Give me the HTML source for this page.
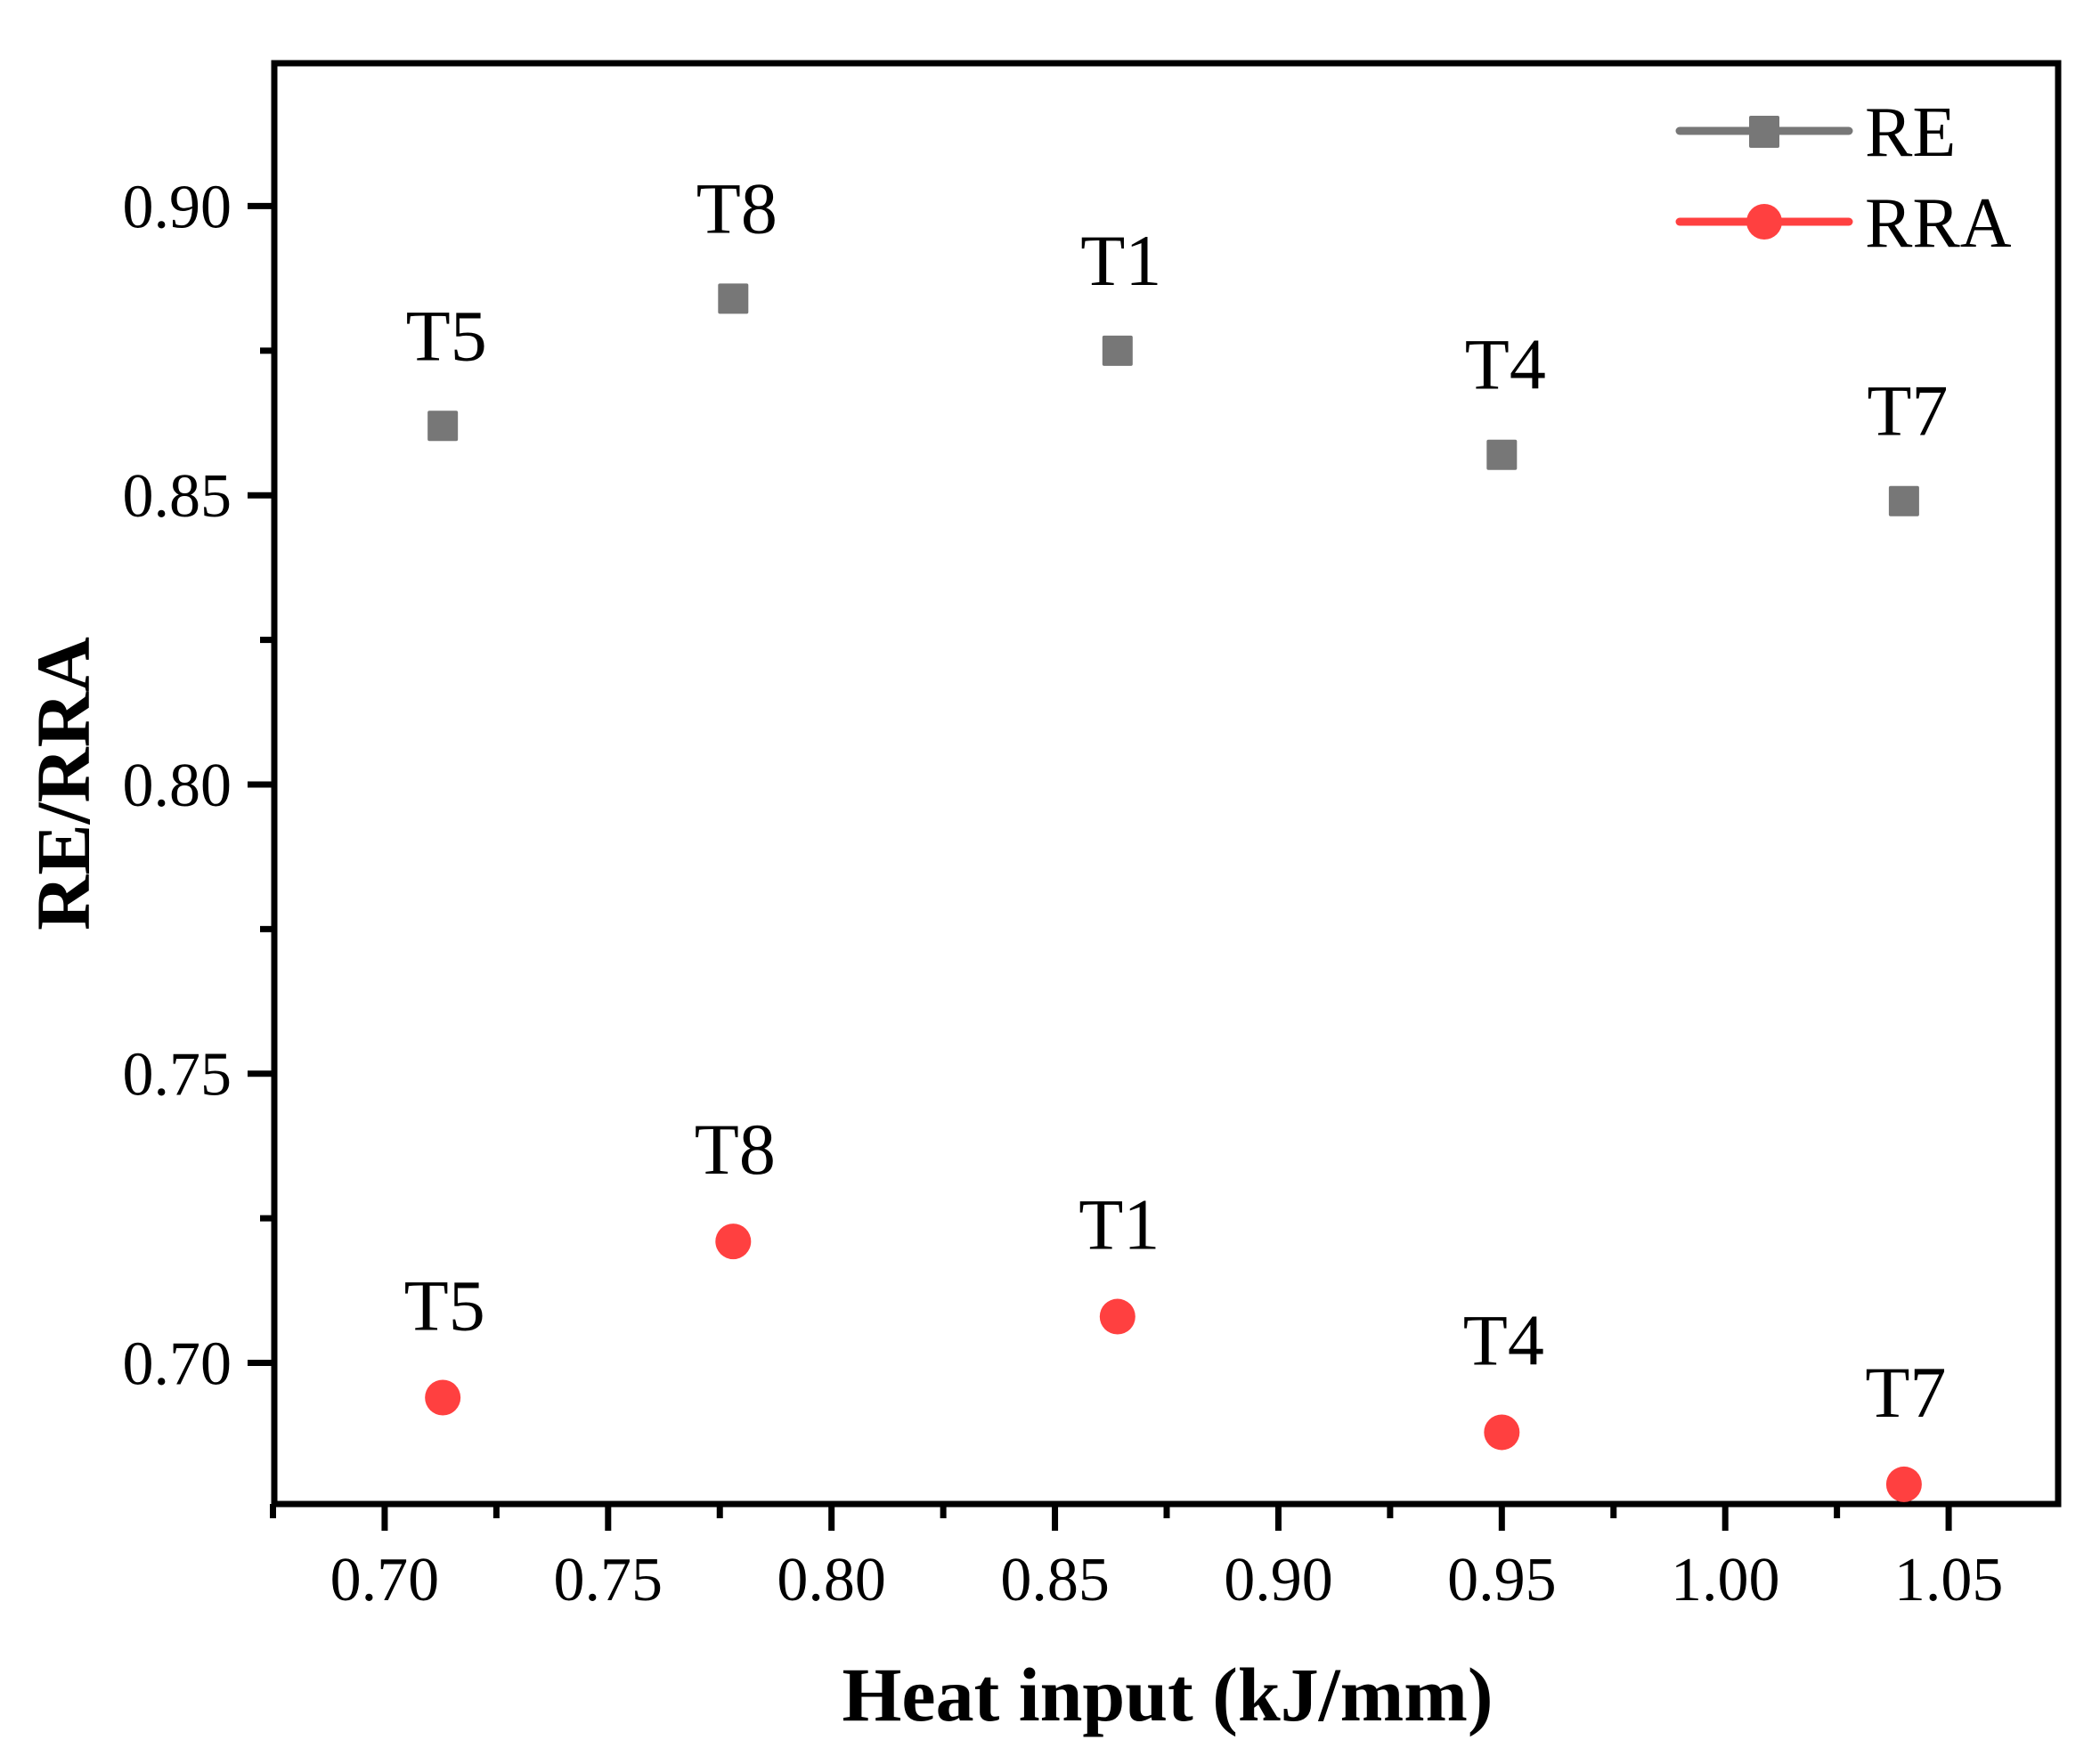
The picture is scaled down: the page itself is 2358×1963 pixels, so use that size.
<!DOCTYPE html>
<html><head><meta charset="utf-8"><style>
html,body{margin:0;padding:0;background:#fff;}
svg{display:block;font-family:"Liberation Serif","Times New Roman",serif;}
</style></head><body>
<svg id="chart" width="2358" height="1963" viewBox="0 0 2358 1963" xmlns="http://www.w3.org/2000/svg"></svg>
<script>
const categories = ["T5","T8","T1","T4","T7"];
const heatInput = [0.713,0.778,0.864,0.950,1.040];
const reValues = [0.862,0.884,0.875,0.857,0.849];
const rraValues = [0.694,0.721,0.708,0.688,0.679];
const xTicks = ["0.70","0.75","0.80","0.85","0.90","0.95","1.00","1.05"];
const yTicks = ["0.70","0.75","0.80","0.85","0.90"];

const L=308,R=2311,T=71,B=1689;
const xMin=0.6753,xMax=1.0745,yMin=0.6756,yMax=0.9247;
function sx(v){return L+(v-xMin)/(xMax-xMin)*(R-L);}
function sy(v){return B-(v-yMin)/(yMax-yMin)*(B-T);}
const svg=document.getElementById('chart');
const NS='http://www.w3.org/2000/svg';
function mk(tag,attrs,parent){const e=document.createElementNS(NS,tag);for(const k in attrs)e.setAttribute(k,attrs[k]);(parent||svg).appendChild(e);return e;}

const frame=mk('rect',{x:L,y:T,width:R-L,height:B-T,fill:'none',stroke:'#000','stroke-width':7});



xTicks.forEach((t)=>{
  const v=parseFloat(t),x=sx(v);
  const tk=mk('line',{x1:x,y1:B,x2:x,y2:B+30,stroke:'#000','stroke-width':7});
  
  
  const lb=mk('text',{x:x,y:1797,'font-size':70,'text-anchor':'middle'});
  lb.textContent=t;
  
  
});
for(let v=0.675;v<1.075;v+=0.05){
  const x=sx(v);
  const tk=mk('line',{x1:x,y1:B,x2:x,y2:B+16,stroke:'#000','stroke-width':7});
  
  
}
yTicks.forEach(t=>{
  const v=parseFloat(t),y=sy(v);
  const tk=mk('line',{x1:L,y1:y,x2:L-30,y2:y,stroke:'#000','stroke-width':7});
  
  
  const lb=mk('text',{x:260,y:y+24,'font-size':70,'text-anchor':'end'});
  lb.textContent=t;
  
  
});
for(let v=0.725;v<0.925;v+=0.05){
  const y=sy(v);
  const tk=mk('line',{x1:L,y1:y,x2:L-16,y2:y,stroke:'#000','stroke-width':7});
  
  
}
const xt=mk('text',{x:1311,y:1932,'font-size':86,'font-weight':'bold','text-anchor':'middle'});
xt.textContent='Heat input (kJ/mm)';


const yt=mk('text',{x:0,y:0,'font-size':86,'font-weight':'bold','text-anchor':'middle',transform:'translate(100,880) rotate(-90)'});
yt.textContent='RE/RRA';



heatInput.forEach((h,i)=>{
  const x=sx(h),y=sy(reValues[i]);
  const m=mk('rect',{x:x-17,y:y-17,width:34,height:34,rx:2,fill:'#777'});
  
  
  const lb=mk('text',{x:x+4,y:y-74,'font-size':82,'text-anchor':'middle'});
  lb.textContent=categories[i];
  
  
});
heatInput.forEach((h,i)=>{
  const x=sx(h),y=sy(rraValues[i]);
  const m=mk('circle',{cx:x,cy:y,r:20,fill:'#ff4040'});
  
  
  const lb=mk('text',{x:x+2,y:y-76,'font-size':82,'text-anchor':'middle'});
  lb.textContent=categories[i];
  
  
});

const lg=mk('g',{});


const l1=mk('line',{x1:1886,y1:147,x2:2076,y2:147,stroke:'#777','stroke-width':9,'stroke-linecap':'round'},lg);


const m1=mk('rect',{x:1964,y:130,width:34,height:36,rx:2,fill:'#777'},lg);


const t1=mk('text',{x:2094,y:175,'font-size':80},lg);
t1.textContent='RE';


const l2=mk('line',{x1:1886,y1:249,x2:2076,y2:249,stroke:'#ff4040','stroke-width':9,'stroke-linecap':'round'},lg);


const m2=mk('circle',{cx:1981,cy:249,r:20,fill:'#ff4040'},lg);


const t2=mk('text',{x:2094,y:277,'font-size':80},lg);
t2.textContent='RRA';


</script>
</body></html>
